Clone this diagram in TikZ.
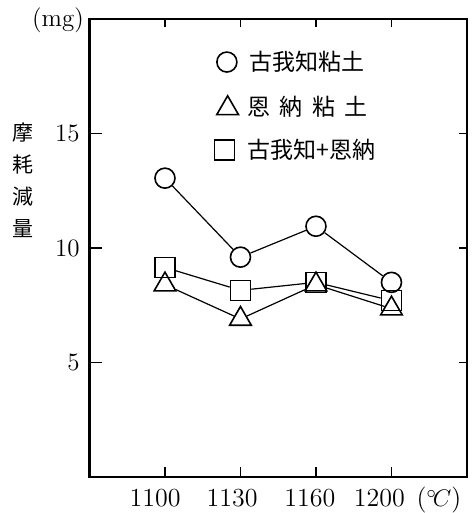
\documentclass[tikz,border=0pt]{standalone}
\usepackage{fontspec}
\newfontfamily\jpfont{Noto Sans CJK JP}
\usetikzlibrary{shapes.geometric}
\tikzset{
  frame/.style={line width=1.4pt},
  curve/.style={line width=0.6pt},
  circ/.style={circle,draw,line width=0.8pt,minimum size=10pt,inner sep=0pt},
  sqr/.style={rectangle,draw,line width=0.8pt,minimum size=10pt,inner sep=0pt},
  tri/.style={regular polygon,regular polygon sides=3,draw,line width=0.8pt,minimum size=12.5pt,inner sep=0pt},
  ticklabel/.style={font=\fontsize{12.5}{14}\selectfont,inner sep=0pt},
  legend/.style={font=\fontsize{11.5}{13}\selectfont\jpfont,anchor=west,inner sep=0pt},
}
\begin{document}
\begin{tikzpicture}[x=37.75pt,y=11.45pt]
    \useasboundingbox (-1.185,-1.572) rectangle (5.08,20.83);
    \draw[frame] (0,0) rectangle (5,20);
    \draw[line width=0.8pt] (0,5)--(0.16,5) (0,10)--(0.16,10) (0,15)--(0.16,15);
    \draw[line width=0.8pt] (5,5)--(4.89,5) (5,10)--(4.89,10) (5,15)--(4.89,15);
    \draw[line width=0.8pt] (1,20)--(1,19.65) (2,20)--(2,19.65) (3,20)--(3,19.65) (4,20)--(4,19.65);
    \draw[line width=0.8pt] (1,0)--(1,0.44) (2,0)--(2,0.44) (3,0)--(3,0.44) (4,0)--(4,0.44);
    \node[ticklabel,anchor=east] (y15) at (-0.126,15) {15};
    \node[ticklabel,anchor=east] (y10) at (-0.126,10) {10};
    \node[ticklabel,anchor=east] (y5) at (-0.126,5) {5};
    \node[ticklabel] (unit) at (-0.417,19.96) {(mg)};
    \node[font=\fontsize{10.5}{16}\selectfont\jpfont,align=center,inner sep=0pt] (ylabel) at (-0.88,12.95) {摩\\耗\\減\\量};
    \node[ticklabel,font=\fontsize{13}{15}\selectfont,anchor=base] (x1) at (0.87,-1.31) {1100};
    \node[ticklabel,font=\fontsize{13}{15}\selectfont,anchor=base] (x2) at (1.89,-1.31) {1130};
    \node[ticklabel,font=\fontsize{13}{15}\selectfont,anchor=base] (x3) at (2.92,-1.31) {1160};
    \node[ticklabel,font=\fontsize{13}{15}\selectfont,anchor=base] (x4) at (3.84,-1.31) {1200};
    \node[ticklabel,font=\fontsize{13}{15}\selectfont,anchor=base] (xunit) at (4.63,-1.31) {($^{\circ}\!C$)};
    % 古我知粘土
    \node[circ] (c1) at (1,13.05) {};
    \node[circ] (c2) at (2,9.6) {};
    \node[circ] (c3) at (3,10.95) {};
    \node[circ] (c4) at (4,8.5) {};
    \draw[curve] (c1)--(c2)--(c3)--(c4);
    % 古我知+恩納
    \node[sqr] (s1) at (1,9.15) {};
    \node[sqr] (s2) at (2,8.15) {};
    \node[sqr] (s3) at (3,8.5) {};
    \node[sqr] (s4) at (4,7.7) {};
    \draw[curve] (s1)--(s2)--(s3)--(s4);
    % 恩納粘土
    \node[tri] (t1) at (1,8.4) {};
    \node[tri] (t2) at (2,6.9) {};
    \node[tri] (t3) at (3,8.4) {};
    \node[tri] (t4) at (4,7.35) {};
    \draw[curve] (t1)--(t2)--(t3)--(t4);
    % legend
    \node[circ] (lc) at (1.82,18.12) {};
    \node[legend] (lct) at (2.12,18.12) {古我知粘土};
    \node[tri] (lt) at (1.83,16.1) {};
    \node[legend] (ltt) at (2.09,16.16) {恩\hspace{0.4em}納\hspace{0.4em}粘\hspace{0.4em}土};
    \node[sqr] (ls) at (1.79,14.28) {};
    \node[legend] (lst) at (2.09,14.28) {古我知+恩納};
\end{tikzpicture}
\end{document}
